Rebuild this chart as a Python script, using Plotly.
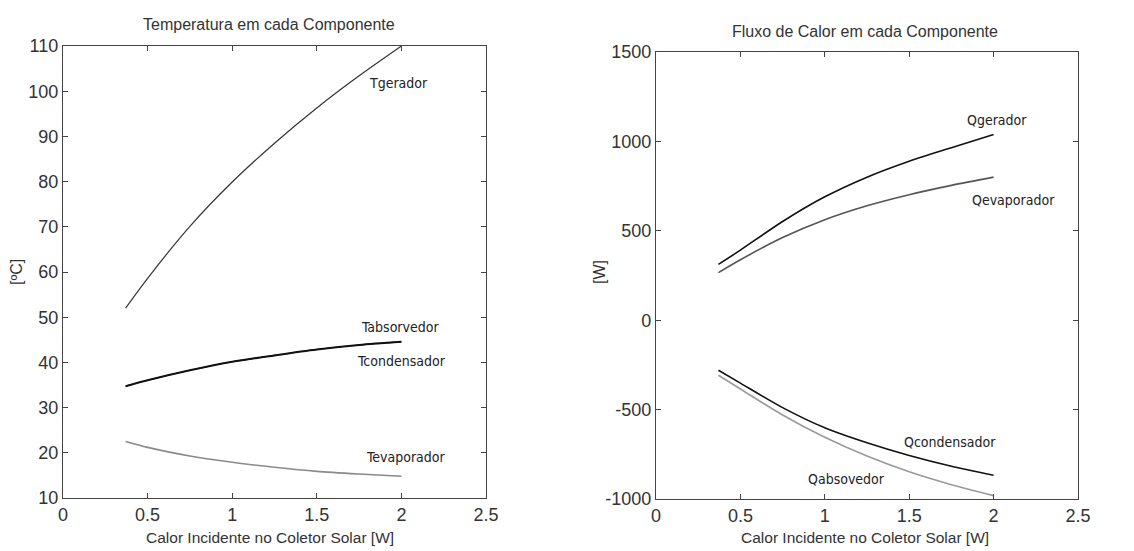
import plotly.graph_objects as go

# ---- data ----
x_calor = [0.37, 0.5, 0.75, 1.0, 1.25, 1.5, 1.75, 2.0]

t_gerador = [52.0, 58.6, 70.1, 79.9, 88.5, 96.3, 103.4, 110.0]
t_absorvedor = [34.8, 36.1, 38.3, 40.2, 41.6, 42.9, 43.9, 44.6]
t_condensador = [34.7, 36.0, 38.2, 40.1, 41.5, 42.8, 43.8, 44.5]
t_evaporador = [22.5, 21.2, 19.3, 17.9, 16.8, 15.9, 15.3, 14.8]

q_gerador = [312, 392, 552, 690, 800, 889, 965, 1038]
q_evaporador = [266, 338, 462, 562, 640, 702, 754, 800]
q_condensador = [-280, -352, -489, -602, -686, -757, -817, -867]
q_absorvedor = [-308, -385, -530, -655, -760, -848, -920, -981]

x_ticks = [0, 0.5, 1, 1.5, 2, 2.5]
x_ticklabels = ["0", "0.5", "1", "1.5", "2", "2.5"]
t_ticks = [10, 20, 30, 40, 50, 60, 70, 80, 90, 100, 110]
t_ticklabels = ["10", "20", "30", "40", "50", "60", "70", "80", "90", "100", "110"]
q_ticks = [-1000, -500, 0, 500, 1000, 1500]
q_ticklabels = ["-1000", "-500", "0", "500", "1000", "1500"]

title_left = "Temperatura em cada Componente"
title_right = "Fluxo de Calor em cada Componente"
xlabel = "Calor Incidente no Coletor Solar [W]"
ylabel_left = "[ºC]"
ylabel_right = "[W]"

FONT = "Liberation Sans Narrow, Arial Narrow, Liberation Sans, Arial, sans-serif"
LBL_FONT = "DejaVu Sans Condensed, DejaVu Sans, sans-serif"
AX_COLOR = "#444444"
TXT_COLOR = "#333333"

fig = go.Figure()

def add_line(x, y, xa, ya, color, width):
    fig.add_trace(go.Scatter(x=x, y=y, mode="lines", xaxis=xa, yaxis=ya,
                             line=dict(color=color, width=width, shape="spline", smoothing=0.8),
                             showlegend=False, hoverinfo="skip"))

add_line(x_calor, t_gerador, "x", "y", "#333333", 1.2)
add_line(x_calor, t_absorvedor, "x", "y", "#111111", 1.6)
add_line(x_calor, t_condensador, "x", "y", "#111111", 1.6)
add_line(x_calor, t_evaporador, "x", "y", "#8a8a8a", 1.6)

add_line(x_calor, q_gerador, "x2", "y2", "#111111", 1.6)
add_line(x_calor, q_evaporador, "x2", "y2", "#555555", 1.6)
add_line(x_calor, q_condensador, "x2", "y2", "#111111", 1.6)
add_line(x_calor, q_absorvedor, "x2", "y2", "#9a9a9a", 1.6)

axis_common = dict(showline=True, linecolor=AX_COLOR, linewidth=1.3, mirror="ticks",
                   ticks="inside", ticklen=5, tickcolor=AX_COLOR, tickwidth=1,
                   showgrid=False, zeroline=False, automargin=False,
                   tickfont=dict(family=FONT, size=18, color=TXT_COLOR))

# the page body has an 8px margin, so the figure is offset by 8px;
# work in window pixels and compensate
OFF = 8
W, H = 1134 - OFF, 551 - OFF
def fx(px):
    return (px - OFF) / W
def fy(py):
    return 1 - (py - OFF) / H

fig.update_layout(
    width=W, height=H,
    margin=dict(l=0, r=0, t=0, b=0),
    paper_bgcolor="white", plot_bgcolor="white",
    showlegend=False,
    xaxis=dict(domain=[fx(63), fx(486)], range=[0, 2.5], tickvals=x_ticks,
               ticktext=x_ticklabels, anchor="y", **axis_common),
    yaxis=dict(domain=[fy(498), fy(46)], range=[10, 110], tickvals=t_ticks,
               ticktext=t_ticklabels, anchor="x", **axis_common),
    xaxis2=dict(domain=[fx(656), fx(1078)], range=[0, 2.5], tickvals=x_ticks,
                ticktext=x_ticklabels, anchor="y2", **axis_common),
    yaxis2=dict(domain=[fy(499), fy(52)], range=[-1000, 1500], tickvals=q_ticks,
                ticktext=q_ticklabels, anchor="x2", **axis_common),
)

annotations = []
def paper_text(text, x, y, size=18, angle=0):
    annotations.append(dict(text=text, x=fx(x), y=fy(y), xref="paper", yref="paper",
                            showarrow=False, textangle=angle,
                            font=dict(family=FONT, size=size, color=TXT_COLOR),
                            xanchor="center", yanchor="middle"))

paper_text(title_left, 269, 24, 16)
paper_text(title_right, 865, 31, 16)
paper_text(xlabel, 270, 537, 15.5)
paper_text(xlabel, 865, 537, 15.5)
paper_text(ylabel_left, 16, 272, 16, -90)
paper_text(ylabel_right, 599, 272, 16, -90)

def data_text(text, x, y, xa, ya):
    annotations.append(dict(text=text, x=x, y=y, xref=xa, yref=ya, showarrow=False,
                            font=dict(family=LBL_FONT, size=14, color="#222222"),
                            xanchor="center", yanchor="middle"))

data_text("Tgerador", 1.98, 101.8, "x", "y")
data_text("Tabsorvedor", 1.99, 47.8, "x", "y")
data_text("Tcondensador", 2.0, 40.3, "x", "y")
data_text("Tevaporador", 2.03, 19.1, "x", "y")

data_text("Qgerador", 2.02, 1119, "x2", "y2")
data_text("Qevaporador", 2.12, 671, "x2", "y2")
data_text("Qcondensador", 1.74, -683, "x2", "y2")
data_text("Qabsovedor", 1.13, -888, "x2", "y2")

fig.update_layout(annotations=annotations)

fig.write_html("out.html")
